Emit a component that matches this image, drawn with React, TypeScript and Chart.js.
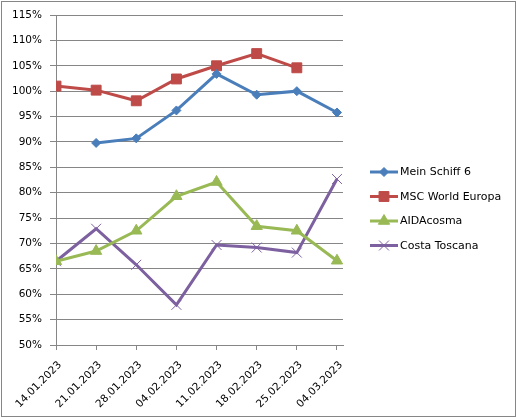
import React, { useEffect, useRef } from "react";
import { Chart, registerables } from "chart.js";
import { drawPoint } from "chart.js/helpers";

Chart.register(...registerables);

const categories = [
  "14.01.2023",
  "21.01.2023",
  "28.01.2023",
  "04.02.2023",
  "11.02.2023",
  "18.02.2023",
  "25.02.2023",
  "04.03.2023",
];
const meinSchiff6 = [null, 89.8, 90.7, 96.2, 103.4, 99.3, 100.0, 95.8];
const mscWorldEuropa = [101.0, 100.2, 98.1, 102.4, 105.0, 107.4, 104.6, null];
const aidaCosma = [66.5, 68.5, 72.5, 79.3, 82.1, 73.4, 72.5, 66.6];
const costaToscana = [66.5, 72.9, 65.8, 57.9, 69.7, 69.2, 68.2, 82.7];

const yMin = 50;
const yMax = 115;
const yStep = 5;

const FONT = "'DejaVu Sans', Verdana, sans-serif";

const toPoints = (vals: (number | null)[]) =>
  categories.map((_, i) => ({ x: i, y: vals[i] }));

const legendPlugin = {
  id: "excelLegend",
  afterDraw(chart: any) {
    const ctx = chart.ctx;
    ctx.save();
    // outer frame
    ctx.strokeStyle = "#868686";
    ctx.lineWidth = 1;
    ctx.strokeRect(1.5, 1.5, 514, 415);
    const x0 = 370;
    const lineLen = 28;
    const startY = 172;
    const gap = 24.5;
    chart.data.datasets.forEach((ds: any, i: number) => {
      const y = startY + i * gap;
      ctx.strokeStyle = ds.borderColor;
      ctx.lineWidth = ds.borderWidth;
      ctx.beginPath();
      ctx.moveTo(x0, y);
      ctx.lineTo(x0 + lineLen, y);
      ctx.stroke();
      ctx.fillStyle = ds.pointBackgroundColor;
      ctx.strokeStyle = ds.pointBorderColor;
      ctx.lineWidth = ds.pointBorderWidth;
      drawPoint(
        ctx,
        {
          pointStyle: ds.pointStyle,
          rotation: 0,
          radius: ds.pointRadius,
          borderWidth: ds.pointBorderWidth,
        } as any,
        x0 + lineLen / 2,
        y
      );
      ctx.fillStyle = "#000";
      ctx.font = `11px ${FONT}`;
      ctx.textBaseline = "middle";
      ctx.textAlign = "left";
      ctx.fillText(ds.label, x0 + lineLen + 2, y + 0.5);
    });
    ctx.restore();
  },
};

export default function App() {
  const ref = useRef<HTMLCanvasElement>(null);
  useEffect(() => {
    document.body.style.margin = "0";
    const chart = new Chart(ref.current!, {
      type: "line",
      data: {
        datasets: [
          {
            label: "Mein Schiff 6",
            data: toPoints(meinSchiff6),
            borderColor: "#4A7EBB",
            backgroundColor: "#4A7EBB",
            borderWidth: 3,
            pointStyle: "rectRot",
            pointRadius: 4.5,
            pointBackgroundColor: "#4A7EBB",
            pointBorderColor: "#4A7EBB",
            pointBorderWidth: 1,
          },
          {
            label: "MSC World Europa",
            data: toPoints(mscWorldEuropa),
            borderColor: "#BE4B48",
            backgroundColor: "#BE4B48",
            borderWidth: 3,
            pointStyle: "rect",
            pointRadius: 7,
            pointBackgroundColor: "#BE4B48",
            pointBorderColor: "#BE4B48",
            pointBorderWidth: 1,
          },
          {
            label: "AIDAcosma",
            data: toPoints(aidaCosma),
            borderColor: "#98B954",
            backgroundColor: "#98B954",
            borderWidth: 3,
            pointStyle: "triangle",
            pointRadius: 6.5,
            pointBackgroundColor: "#98B954",
            pointBorderColor: "#98B954",
            pointBorderWidth: 1,
          },
          {
            label: "Costa Toscana",
            data: toPoints(costaToscana),
            borderColor: "#7D60A0",
            backgroundColor: "#7D60A0",
            borderWidth: 3,
            pointStyle: "crossRot",
            pointRadius: 7,
            pointBackgroundColor: "#7D60A0",
            pointBorderColor: "#7D60A0",
            pointBorderWidth: 1,
          },
        ],
      },
      options: {
        animation: false,
        responsive: false,
        devicePixelRatio: 1,
        layout: { padding: { left: 0, top: 15, right: 174, bottom: 0 } },
        plugins: {
          legend: { display: false },
          tooltip: { enabled: false },
        },
        elements: { line: { tension: 0 } },
        scales: {
          x: {
            type: "linear",
            min: 0,
            max: 7.15,
            afterBuildTicks: (scale: any) => {
              scale.ticks = categories.map((_, i) => ({ value: i }));
            },
            afterFit: (scale: any) => {
              scale.height = 73;
            },
            border: { color: "#868686", width: 1 },
            grid: {
              drawOnChartArea: false,
              drawTicks: true,
              tickLength: 5,
              color: "#868686",
            },
            ticks: {
              autoSkip: false,
              maxRotation: 45,
              minRotation: 45,
              padding: 9,
              labelOffset: 4,
              color: "#000",
              font: { family: FONT, size: 10.5 },
              callback: (v: any) => categories[v as number] ?? "",
            },
          },
          y: {
            min: yMin,
            max: yMax,
            afterFit: (scale: any) => {
              scale.width = 56;
            },
            border: { color: "#868686", width: 1 },
            grid: {
              color: "#868686",
              tickLength: 6,
              drawTicks: true,
            },
            ticks: {
              stepSize: yStep,
              padding: 8,
              color: "#000",
              font: { family: FONT, size: 10.5 },
              callback: (v: any) => `${v}%`,
            },
          },
        },
      },
      plugins: [legendPlugin],
    });
    return () => chart.destroy();
  }, []);
  return (
    <div style={{ position: "absolute", left: 0, top: 0, width: 517, height: 418, background: "#fff" }}>
      <canvas ref={ref} width={517} height={418} style={{ width: 517, height: 418 }} />
    </div>
  );
}
